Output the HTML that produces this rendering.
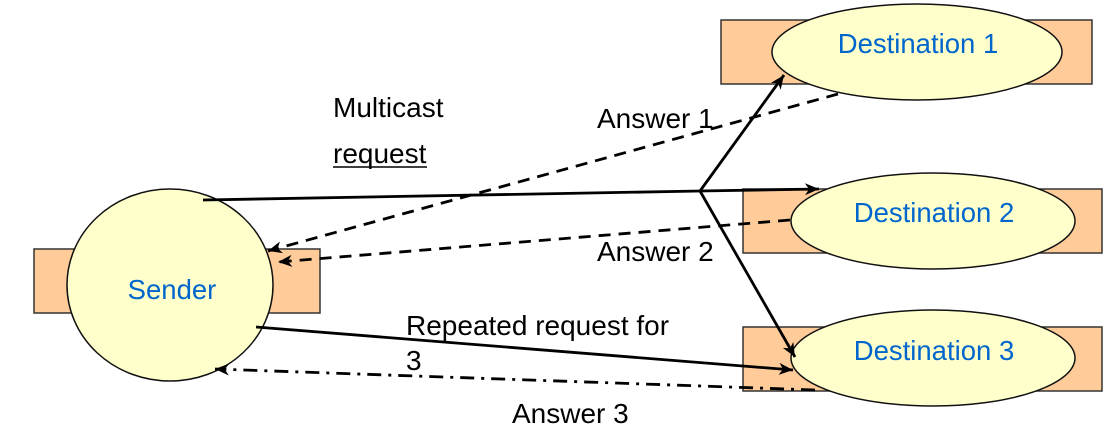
<!DOCTYPE html>
<html><head><meta charset="utf-8"><style>
html,body{margin:0;padding:0;background:#fff;}
svg{display:block;}
text{font-family:"Liberation Sans",Arial,sans-serif;font-size:28px;}
.b{fill:#0066cc;font-size:27.5px;}
</style></head><body>
<svg width="1119" height="435" viewBox="0 0 1119 435" xmlns="http://www.w3.org/2000/svg">
<defs>
<marker id="m" markerWidth="16" markerHeight="14" refX="14" refY="7" orient="auto" markerUnits="userSpaceOnUse">
<path d="M0,1 L14,7 L0,13 L4,7 Z" fill="#000"/>
</marker>
</defs>
<rect x="34" y="249" width="286" height="64" fill="#ffcc99" stroke="#333" stroke-width="1.5"/>
<ellipse cx="170" cy="285" rx="103" ry="96" fill="#ffffcc" stroke="#111" stroke-width="1.5"/>
<text x="172" y="299" text-anchor="middle" class="b">Sender</text>
<rect x="721" y="20" width="371" height="64" fill="#ffcc99" stroke="#333" stroke-width="1.5"/>
<ellipse cx="917" cy="52" rx="145" ry="48" fill="#ffffcc" stroke="#111" stroke-width="1.5"/>
<text x="918" y="53" text-anchor="middle" class="b">Destination 1</text>
<rect x="743" y="189" width="359" height="64" fill="#ffcc99" stroke="#333" stroke-width="1.5"/>
<ellipse cx="933" cy="221" rx="142" ry="48" fill="#ffffcc" stroke="#111" stroke-width="1.5"/>
<text x="934" y="222" text-anchor="middle" class="b">Destination 2</text>
<rect x="743" y="327" width="359" height="64" fill="#ffcc99" stroke="#333" stroke-width="1.5"/>
<ellipse cx="933" cy="358" rx="142" ry="48" fill="#ffffcc" stroke="#111" stroke-width="1.5"/>
<text x="934" y="360" text-anchor="middle" class="b">Destination 3</text>
<g stroke="#000" stroke-width="2.8" fill="none">
<line x1="203" y1="200" x2="700" y2="191"/>
<line x1="700" y1="191" x2="819" y2="189" marker-end="url(#m)"/>
<line x1="700" y1="191" x2="784" y2="75" marker-end="url(#m)"/>
<line x1="700" y1="191" x2="795" y2="357" marker-end="url(#m)"/>
<line x1="838" y1="94" x2="268" y2="251" stroke-dasharray="12,8" marker-end="url(#m)"/>
<line x1="790" y1="220" x2="278" y2="262" stroke-dasharray="12,8" marker-end="url(#m)"/>
<line x1="256" y1="327" x2="793" y2="370" marker-end="url(#m)"/>
<line x1="815" y1="390" x2="215" y2="369" stroke-dasharray="14,7,3,7" marker-end="url(#m)"/>
</g>
<text x="333" y="117">Multicast</text>
<text x="333" y="163">request</text>
<line x1="333" y1="167" x2="427" y2="167" stroke="#000" stroke-width="1.5"/>
<text x="597" y="128">Answer 1</text>
<text x="597" y="261">Answer 2</text>
<text x="406" y="335">Repeated request for</text>
<text x="406" y="370">3</text>
<text x="512" y="423">Answer 3</text>
</svg>
</body></html>
